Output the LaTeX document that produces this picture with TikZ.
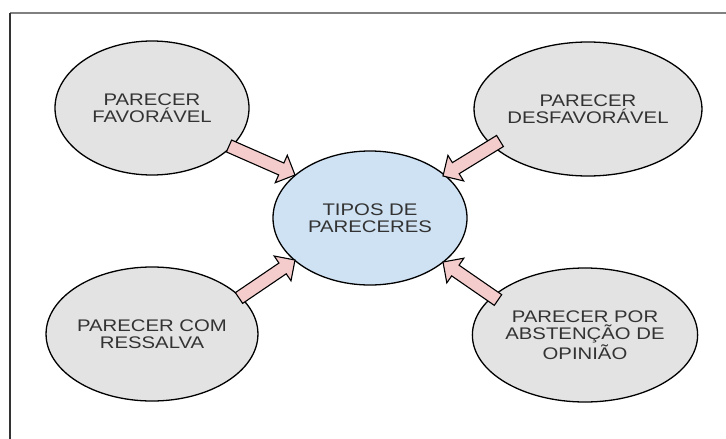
\documentclass[tikz,border=0pt]{standalone}
\usepackage{fontspec}
\setmainfont[FakeStretch=1.21]{Liberation Sans}
\usetikzlibrary{shapes.geometric,calc}
\definecolor{txt}{HTML}{333333}
\definecolor{grayfill}{HTML}{E3E3E3}
\definecolor{bluefill}{HTML}{CFE2F3}
\definecolor{pinkfill}{HTML}{F4CCCC}
\definecolor{frametop}{HTML}{808080}
\begin{document}
\begin{tikzpicture}[x=1pt,y=-1pt,
  bubble/.style={ellipse, draw=black, line width=1.3pt, fill=grayfill,
    minimum width=194pt, minimum height=134pt, inner sep=0pt, align=center,
    text=txt, font=\fontsize{16.8}{17.5}\selectfont},
  hub/.style={bubble, fill=bluefill},
  fatarrow/.style={draw=black, line width=1.1pt, fill=pinkfill, line join=miter},
  frameline/.style={line width=1.2pt}]
\useasboundingbox (0,0) rectangle (726,439);
\draw[frameline, draw=frametop] (10,13) -- (726,13);
\draw[frameline, draw=txt] (10,13) -- (10,439);

\node[bubble] (fav) at (152,108) {PARECER\\FAVORÁVEL};
\node[bubble] (desf) at (588,109) {PARECER\\DESFAVORÁVEL};
\node[bubble] (ress) at (152,334) {PARECER COM\\RESSALVA};
\node[bubble] (abst) at (585,335) {PARECER POR\\ABSTENÇÃO DE\\OPINIÃO};
\node[hub] (tipos) at (370,218) {TIPOS DE\\PARECERES};

\coordinate (s1) at (229,146); \coordinate (t1) at (295,175);
\coordinate (s2) at (500,141); \coordinate (t2) at (443,176);
\coordinate (s3) at (239,298); \coordinate (t3) at (295,260);
\coordinate (s4) at (498,300); \coordinate (t4) at (443,262);

\foreach \i in {1,2,3,4}{
  \coordinate (b\i) at ($(t\i)!15pt!(s\i)$);
  \draw[fatarrow] ($(s\i)!6.5pt!90:(t\i)$) -- ($(b\i)!6.5pt!90:(t\i)$)
    -- ($(b\i)!15pt!90:(t\i)$) -- (t\i) -- ($(b\i)!15pt!-90:(t\i)$)
    -- ($(b\i)!6.5pt!-90:(t\i)$) -- ($(s\i)!6.5pt!-90:(t\i)$) -- cycle;
}
\end{tikzpicture}
\end{document}
